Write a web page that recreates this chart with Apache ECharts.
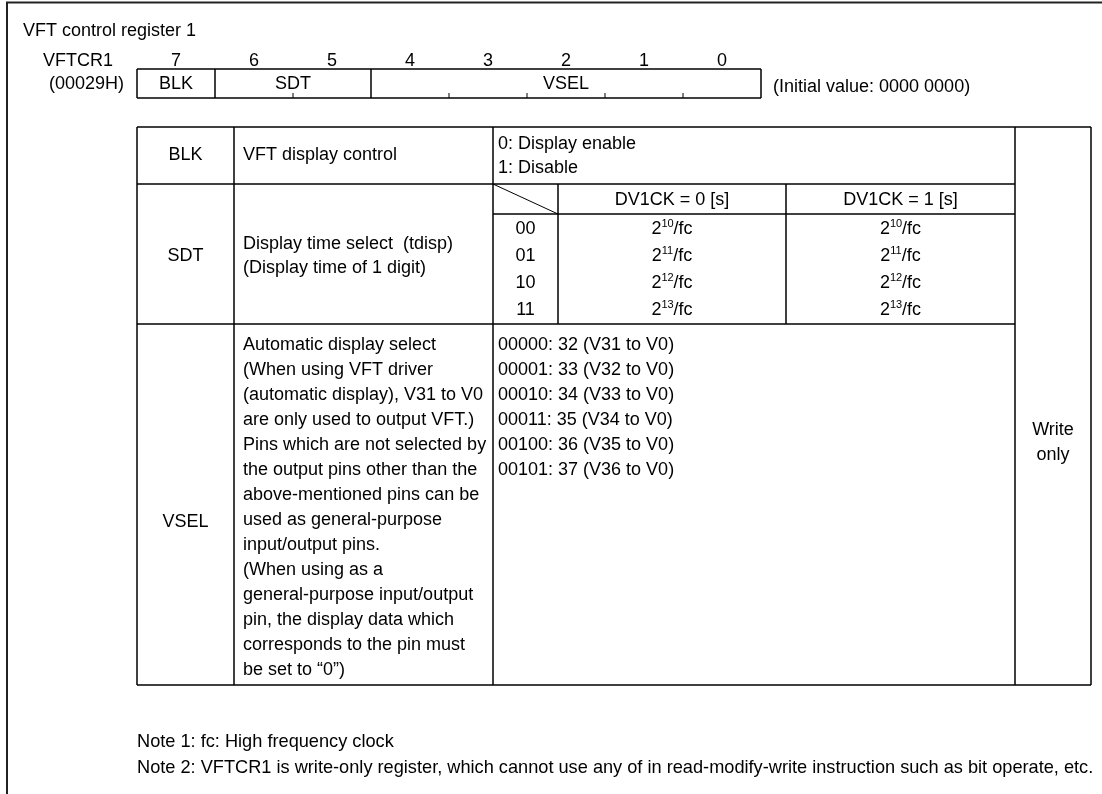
<!DOCTYPE html>
<html>
<head>
<meta charset="utf-8">
<script src="https://cdn.jsdelivr.net/npm/echarts@6/dist/echarts.min.js"></script>
<style>
  html, body { margin: 0; padding: 0; background: #fff; }
  #main { width: 1102px; height: 794px; }
</style>
</head>
<body>
<div id="main"></div>
<script>
// register data
const titleText = 'VFT control register 1';
const regName = 'VFTCR1';
const regAddr = '(00029H)';
const initValue = '(Initial value: 0000 0000)';
const bitNumbers = [7, 6, 5, 4, 3, 2, 1, 0];
const fieldNames = ['BLK', 'SDT', 'VSEL'];
const fieldWidths = [1, 2, 5];

// table data
const blkDesc = 'VFT display control';
const blkValues = ['0: Display enable', '1: Disable'];
const sdtDesc = ['Display time select  (tdisp)', '(Display time of 1 digit)'];
const sdtHeaders = ['DV1CK = 0 [s]', 'DV1CK = 1 [s]'];
const sdtCodes = ['00', '01', '10', '11'];
const sdtExpDv0 = [10, 11, 12, 13];
const sdtExpDv1 = [10, 11, 12, 13];
const vselDesc = [
  'Automatic display select',
  '(When using VFT driver',
  '(automatic display), V31 to V0',
  'are only used to output VFT.)',
  'Pins which are not selected by',
  'the output pins other than the',
  'above-mentioned pins can be',
  'used as general-purpose',
  'input/output pins.',
  '(When using as a',
  'general-purpose input/output',
  'pin, the display data which',
  'corresponds to the pin must',
  'be set to \u201c0\u201d)'
];
const vselValues = [
  '00000: 32 (V31 to V0)',
  '00001: 33 (V32 to V0)',
  '00010: 34 (V33 to V0)',
  '00011: 35 (V34 to V0)',
  '00100: 36 (V35 to V0)',
  '00101: 37 (V36 to V0)'
];
const accessText = ['Write', 'only'];
const notes = [
  'Note 1: fc: High frequency clock',
  'Note 2: VFTCR1 is write-only register, which cannot use any of in read-modify-write instruction such as bit operate, etc.'
];

const FONT = '"Liberation Sans", Arial, sans-serif';
const FS = 18;
const els = [];

function line(x1, y1, x2, y2, w, c) {
  els.push({
    type: 'line',
    shape: {x1: x1, y1: y1, x2: x2, y2: y2},
    style: {stroke: c || '#000', lineWidth: w || 1}
  });
}
function text(t, x, y, align, size) {
  els.push({
    type: 'text',
    x: x, y: y,
    style: {
      text: t, fill: '#000', fontSize: size || FS, fontFamily: FONT,
      align: align || 'left', verticalAlign: 'middle',
      textAlign: align || 'left', textVerticalAlign: 'middle'
    }
  });
}
function powText(exp, x, y) {
  els.push({
    type: 'text',
    x: x, y: y,
    style: {
      text: '{b|2}{s|' + exp + '}{b|/fc}',
      fill: '#000', fontFamily: FONT,
      align: 'center', verticalAlign: 'middle',
      textAlign: 'center', textVerticalAlign: 'middle',
      rich: {
        b: {fontSize: FS, fontFamily: FONT, lineHeight: 22, fill: '#000'},
        s: {fontSize: 11, fontFamily: FONT, lineHeight: 12, verticalAlign: 'top', fill: '#000'}
      }
    }
  });
}

// frame
line(6, 2.5, 1102, 2.5, 2, '#222');
line(7, 2, 7, 794, 2, '#222');

// register header
text(titleText, 23, 31);
text(regName, 43, 61);
text(regAddr, 49, 84);
const bitLeft = 137, bitW = 78, boxTop = 69, boxBot = 98;
bitNumbers.forEach(function (b, i) {
  text(String(b), bitLeft + bitW * i + bitW / 2, 61, 'center');
});
const boxRight = bitLeft + bitW * bitNumbers.length;
line(bitLeft, boxTop, boxRight, boxTop, 1.5);
line(bitLeft, boxBot, boxRight, boxBot, 1.5);
let pos = 0;
fieldNames.forEach(function (f, i) {
  const x0 = bitLeft + bitW * pos;
  const x1 = bitLeft + bitW * (pos + fieldWidths[i]);
  line(x0, boxTop, x0, boxBot, 1.5);
  for (let k = 1; k < fieldWidths[i]; k++) {
    const xt = x0 + bitW * k;
    line(xt, boxBot - 5, xt, boxBot, 1);
  }
  text(f, (x0 + x1) / 2, 84, 'center');
  pos += fieldWidths[i];
});
line(boxRight, boxTop, boxRight, boxBot, 1.5);
text(initValue, 773, 87);

// table grid
const cx = [137, 234, 493, 558, 786, 1015, 1091];
const ry = [127, 184, 214, 324, 685];
const lw = 1.5;
line(cx[0], ry[0], cx[6], ry[0], lw);
line(cx[0], ry[4], cx[6], ry[4], lw);
line(cx[0], ry[1], cx[5], ry[1], lw);
line(cx[0], ry[3], cx[5], ry[3], lw);
line(cx[2], ry[2], cx[5], ry[2], lw);
[0, 1, 2, 5, 6].forEach(function (i) { line(cx[i], ry[0], cx[i], ry[4], lw); });
line(cx[3], ry[1], cx[3], ry[3], lw);
line(cx[4], ry[1], cx[4], ry[3], lw);
line(cx[2], ry[1], cx[3], ry[2], 1);

// BLK row
text(fieldNames[0], (cx[0] + cx[1]) / 2, 155, 'center');
text(blkDesc, cx[1] + 9, 155);
blkValues.forEach(function (v, i) { text(v, cx[2] + 5, 144 + i * 24); });

// SDT row
text(fieldNames[1], (cx[0] + cx[1]) / 2, 256, 'center');
sdtDesc.forEach(function (v, i) { text(v, cx[1] + 9, 244 + i * 24); });
text(sdtHeaders[0], (cx[3] + cx[4]) / 2, 200, 'center');
text(sdtHeaders[1], (cx[4] + cx[5]) / 2, 200, 'center');
sdtCodes.forEach(function (c, i) {
  const y = 229 + i * 27;
  text(c, (cx[2] + cx[3]) / 2, y, 'center');
  powText(sdtExpDv0[i], (cx[3] + cx[4]) / 2, y);
  powText(sdtExpDv1[i], (cx[4] + cx[5]) / 2, y);
});

// VSEL row
text(fieldNames[2], (cx[0] + cx[1]) / 2, 522, 'center');
vselDesc.forEach(function (v, i) { text(v, cx[1] + 9, 345 + i * 25); });
vselValues.forEach(function (v, i) { text(v, cx[2] + 5, 345 + i * 25); });

// access column
accessText.forEach(function (v, i) { text(v, (cx[5] + cx[6]) / 2, 430 + i * 25, 'center'); });

// notes
notes.forEach(function (n, i) { text(n, 137, 742 + i * 26, 'left', 18.2); });

const chart = echarts.init(document.getElementById('main'), null, {renderer: 'canvas'});
chart.setOption({
  backgroundColor: '#fff',
  animation: false,
  graphic: {elements: els}
});
window.addEventListener('resize', function () { chart.resize(); });
</script>
</body>
</html>
